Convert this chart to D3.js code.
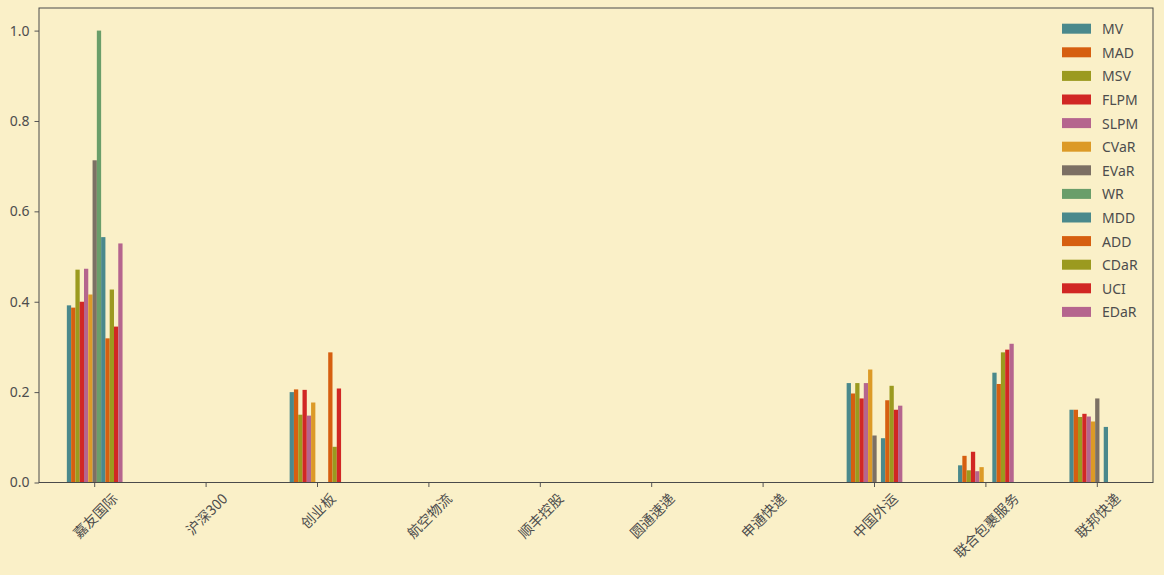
<!DOCTYPE html>
<html><head><meta charset="utf-8">
<script src="https://cdn.jsdelivr.net/npm/d3@7"></script>
<style>
html,body{margin:0;padding:0;background:#FAF0C8;}
svg{display:block;}
text{font-family:"Noto Sans","Noto Sans CJK SC",sans-serif;fill:#4d4d4d;}
</style></head>
<body>
<svg id="chart" width="1164" height="575"></svg>
<script>
const categories = ["嘉友国际","沪深300","创业板","航空物流","顺丰控股","圆通速递","申通快递","中国外运","联合包裹服务","联邦快递"];
const seriesNames = ["MV","MAD","MSV","FLPM","SLPM","CVaR","EVaR","WR","MDD","ADD","CDaR","UCI","EDaR"];
const MV   = [0.392,0,0.200,0,0,0,0,0.220,0.038,0.161];
const MAD  = [0.387,0,0.206,0,0,0,0,0.197,0.059,0.161];
const MSV  = [0.471,0,0.150,0,0,0,0,0.220,0.027,0.145];
const FLPM = [0.400,0,0.205,0,0,0,0,0.186,0.068,0.152];
const SLPM = [0.473,0,0.148,0,0,0,0,0.220,0.025,0.146];
const CVaR = [0.416,0,0.177,0,0,0,0,0.250,0.034,0.135];
const EVaR = [0.713,0,0,0,0,0,0,0.104,0,0.186];
const WR   = [1.000,0,0,0,0,0,0,0,0,0];
const MDD  = [0.543,0,0,0,0,0,0,0.098,0.243,0.123];
const ADD  = [0.319,0,0.288,0,0,0,0,0.182,0.218,0];
const CDaR = [0.427,0,0.079,0,0,0,0,0.214,0.288,0];
const UCI  = [0.345,0,0.208,0,0,0,0,0.161,0.294,0];
const EDaR = [0.529,0,0,0,0,0,0,0.170,0.307,0];
const seriesValues = [MV,MAD,MSV,FLPM,SLPM,CVaR,EVaR,WR,MDD,ADD,CDaR,UCI,EDaR];
const yTicks = [0,0.2,0.4,0.6,0.8,1.0];
const palette = ["#4A898C","#D65F10","#9B9A1F","#D12724","#B5658E","#DC9A27","#7C7064","#6A9E6A"];

const svg = d3.select("#chart");
const L=39, R=1153, T=8, B=482.5;
const x = d3.scaleBand().domain(categories).range([L,R]).paddingInner(0).paddingOuter(0);
const bw = x.bandwidth();
const x1 = d3.scaleBand().domain(seriesNames).range([bw*0.25,bw*0.75]).padding(0);
const y = d3.scaleLinear().domain([0,1.05]).range([B,T]);
const color = d3.scaleOrdinal().domain(seriesNames).range(seriesNames.map((s,i)=>palette[i%8]));

// bars
const g = svg.append("g");
seriesNames.forEach((s,si)=>{
  g.selectAll(null).data(seriesValues[si]).enter().append("rect")
    .attr("x",(d,i)=>x(categories[i])+x1(s))
    .attr("width",x1.bandwidth())
    .attr("y",d=>y(d))
    .attr("height",d=>B-y(d))
    .attr("fill",color(s));
});

// y axis
const yAxis = svg.append("g").attr("transform",`translate(${L},0)`)
  .call(d3.axisLeft(y).tickValues(yTicks).tickFormat(d3.format(".1f")).tickSize(4.5).tickPadding(5));
yAxis.select(".domain").remove();
yAxis.selectAll("line").attr("stroke","#555");
yAxis.selectAll("text").style("font-size","14px").attr("fill","#4d4d4d").style("font-family","'Noto Sans',sans-serif");

// x axis ticks
const xAxis = svg.append("g").attr("transform",`translate(0,${B})`)
  .call(d3.axisBottom(x).tickSize(4.5).tickFormat(""));
xAxis.select(".domain").remove();
xAxis.selectAll("line").attr("stroke","#555");

// rotated x labels
const fs = 14;
categories.forEach(c=>{
  const t = svg.append("text").text(c)
    .style("font-size",fs+"px")
    .style("font-family","'Noto Sans CJK SC',sans-serif")
    .attr("text-anchor","middle")
    .attr("dominant-baseline","central");
  const w = t.node().getComputedTextLength();
  const boxH = (w+fs)*Math.SQRT1_2;
  const cx = x(c)+bw/2, cy = B+8+boxH/2;
  t.attr("transform",`translate(${cx},${cy}) rotate(-45)`);
});

// frame
svg.append("rect").attr("x",L).attr("y",T).attr("width",R-L).attr("height",B-T)
  .attr("fill","none").attr("stroke","#4a4a4a").attr("stroke-width",1);

// legend
const lg = svg.append("g");
seriesNames.forEach((s,i)=>{
  const cy = 28.7 + i*23.6;
  lg.append("rect").attr("x",1062).attr("y",cy-5).attr("width",29).attr("height",10).attr("fill",color(s));
  lg.append("text").attr("x",1102).attr("y",cy).attr("dominant-baseline","central")
    .style("font-size","14px").text(s);
});
</script>
</body></html>
